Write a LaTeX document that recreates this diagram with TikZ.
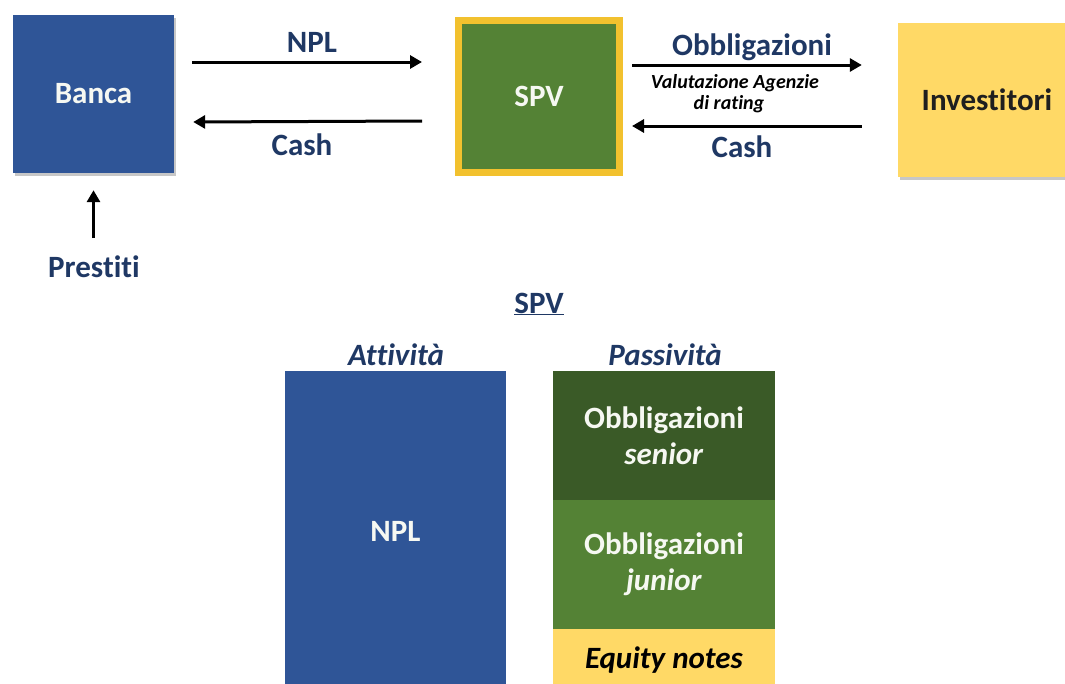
\documentclass[tikz,border=0pt]{standalone}
\usepackage{fontspec}
\setmainfont{Carlito}[Ligatures=NoCommon]
\usetikzlibrary{arrows.meta,calc,shadows}
\definecolor{navy}{HTML}{1F3864}
\definecolor{bluebox}{HTML}{2F5597}
\definecolor{greenbox}{HTML}{548235}
\definecolor{darkgreen}{HTML}{3A5A27}
\definecolor{goldline}{HTML}{F2C12E}
\definecolor{yellowbox}{HTML}{FFD966}
\definecolor{offwhite}{HTML}{F6F8F2}
\begin{document}
\begin{tikzpicture}[x=1pt,y=-1pt,
  bigfont/.style={font=\fontsize{31}{36}\selectfont\bfseries},
  box/.style={rectangle, inner sep=0pt, bigfont, text=offwhite, align=center},
  shadowed/.style={drop shadow={shadow xshift=2pt, shadow yshift=-3pt, opacity=0.22, fill=black}},
  lbl/.style={bigfont, text=navy, anchor=base, inner sep=0pt},
  itlbl/.style={lbl, font=\fontsize{31}{36}\selectfont\bfseries\itshape},
  small/.style={font=\fontsize{20}{18}\selectfont\bfseries\itshape, text=black, anchor=base, inner sep=0pt},
  arr/.style={line width=3pt, -{Triangle[length=12pt,width=13pt]}}
]
\useasboundingbox (0,0) rectangle (1065,683);
\clip (0,0) rectangle (1065,683);

% top row boxes
\node[box, shadowed, fill=bluebox, minimum width=161pt, minimum height=158pt] (banca) at (93.5,94) {Banca};
\node[box, shadowed, fill=greenbox, draw=goldline, line width=7pt, minimum width=161pt, minimum height=152pt] (spv) at (539,96.5) {SPV};
\node[box, shadowed, fill=yellowbox, text=black!88, minimum width=178pt, minimum height=154pt] (inv) at (987,100) {Investitori};

% arrow labels
\node[lbl] (lnpl) at (312,52) {NPL};
\node[lbl] (lcash1) at (302,155) {Cash};
\node[lbl] (lobb) at (752,55) {Obbligazioni};
\node[lbl] (lcash2) at (742,157) {Cash};
\node[small] (val1) at (735,88.5) {Valutazione Agenzie};
\node[small] (val2) at (729,109) {di rating};
\node[lbl] (prest) at (94,277) {Prestiti};

% arrows
\draw[arr] ($(banca.east)+(18,-32)$) -- ($(spv.west)+(-33,-34.5)$);
\draw[arr] ($(spv.west)+(-33,24.5)$) -- ($(banca.east)+(19,28)$);
\draw[arr] ($(spv.east)+(9,-31.5)$) -- ($(inv.west)+(-36,-35)$);
\draw[arr] ($(inv.west)+(-36,26)$) -- ($(spv.east)+(9,29.5)$);
\draw[arr] ($(banca.south)+(0,65)$) -- ($(banca.south)+(0,17)$);

% balance sheet
\node[lbl] (spvt) at (539,313) {\underline{SPV}};
\node[itlbl] (att) at (396,365) {Attività};
\node[itlbl] (pass) at (665,365) {Passività};

\node[box, fill=bluebox, minimum width=221pt, minimum height=320pt] (npl) at (395.5,531) {NPL};
\node[box, fill=darkgreen, minimum width=222pt, minimum height=129pt] (senior) at (664,435.5) {Obbligazioni\\\textit{senior}};
\node[box, fill=greenbox, minimum width=222pt, minimum height=129pt] (junior) at (664,564.5) {Obbligazioni\\\textit{junior}};
\node[box, fill=yellowbox, text=black, minimum width=222pt, minimum height=62pt] (equity) at (664,660) {\textit{Equity notes}};
\end{tikzpicture}
\end{document}
